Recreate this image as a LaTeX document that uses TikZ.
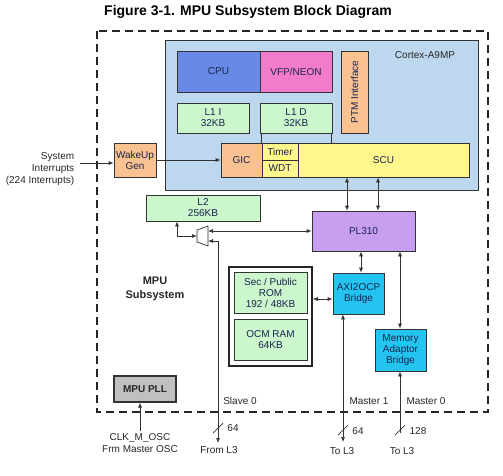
\documentclass[tikz,border=0pt]{standalone}
\usepackage{fontspec}
\setmainfont{Liberation Sans}
\usetikzlibrary{arrows.meta}
\definecolor{cortexblue}{RGB}{189,215,238}
\definecolor{cpublue}{RGB}{104,138,230}
\definecolor{neonpink}{RGB}{242,124,202}
\definecolor{boxorange}{RGB}{250,194,145}
\definecolor{boxgreen}{RGB}{204,246,204}
\definecolor{boxyellow}{RGB}{255,246,140}
\definecolor{plpurple}{RGB}{200,158,240}
\definecolor{bridgecyan}{RGB}{36,196,240}
\definecolor{pllgray}{RGB}{192,192,192}
\definecolor{inktext}{RGB}{25,35,80}

\begin{document}
\begin{tikzpicture}[x=1pt, y=-1pt,
    blk/.style={draw=black!80, line width=0.7pt, inner sep=1pt, align=center,
      font=\fontsize{10}{11}\selectfont, text=inktext},
    lbl/.style={inner sep=0pt, align=center, font=\fontsize{10}{12}\selectfont, text=black!85},
    bus/.style={line width=0.7pt, draw=black!80, >={Latex[length=5pt,width=4pt]}}]
  \useasboundingbox (0,0) rectangle (503,475);

  \node[font=\bfseries\fontsize{14}{16}\selectfont] (title) at (248,12) {Figure 3-1. MPU Subsystem Block Diagram};
  \draw[line width=1.2pt, draw=black!85, dash pattern=on 8pt off 5pt] (97,31) rectangle (488,412);

  % Cortex-A9MP
  \node[blk, fill=cortexblue, minimum width=313, minimum height=150] (cortex) at (321.5,115) {};
  \node[lbl] (cortexlbl) at (425,55) {Cortex-A9MP};
  \node[blk, fill=cpublue, minimum width=83, minimum height=41] (cpu) at (218.5,71.5) {CPU};
  \node[blk, fill=neonpink, minimum width=72, minimum height=41] (vfp) at (296,71.5) {VFP/NEON};
  \node[blk, fill=boxorange, minimum width=82, minimum height=27, rotate=90] (ptm) at (354.5,92) {PTM Interface};
  \node[blk, fill=boxgreen, minimum width=72, minimum height=30] (l1i) at (213,118) {L1 I\\32KB};
  \node[blk, fill=boxgreen, minimum width=72, minimum height=30] (l1d) at (296,118) {L1 D\\32KB};
  \node[blk, fill=boxorange, minimum width=41, minimum height=34] (gic) at (241.5,160) {GIC};
  \node[blk, fill=boxyellow, minimum width=36, minimum height=17] (timer) at (280,151.5) {Timer};
  \node[blk, fill=boxyellow, minimum width=36, minimum height=17] (wdt) at (280,168.5) {WDT};
  \node[blk, fill=boxyellow, minimum width=171, minimum height=34] (scu) at (383.5,160) {SCU};
  \draw[bus] (l1d.south west) ++(2,0) -- ++(0,10);
  \draw[bus] (l1d.south east) ++(-1,0) -- ++(0,10);

  % outside the core
  \node[blk, fill=boxorange, minimum width=42, minimum height=34] (wakeup) at (135,160) {WakeUp\\Gen};
  \node[lbl, align=right] (sysint) at (40,169) {System\\Interrupts\\(224 Interrupts)};
  \node[blk, fill=boxgreen, minimum width=114, minimum height=26] (l2) at (203,208) {L2\\256KB};
  \node[blk, fill=plpurple, minimum width=103, minimum height=40] (pl310) at (363.5,231) {PL310};
  \node[blk, fill=bridgecyan, minimum width=51, minimum height=41] (axi) at (358.5,293.5) {AXI2OCP\\Bridge};
  \node[blk, fill=bridgecyan, minimum width=51, minimum height=42] (mab) at (400.5,350) {Memory\\Adaptor\\Bridge};
  \node[blk, line width=1.5pt, draw=black!85, fill=white, minimum width=83, minimum height=99] (romgrp) at (270.5,316.5) {};
  \node[blk, fill=boxgreen, minimum width=73, minimum height=41] (rom) at (270.5,292.5) {Sec / Public\\ROM\\192 / 48KB};
  \node[blk, fill=boxgreen, minimum width=73, minimum height=41] (ocm) at (270.5,339.5) {OCM RAM\\64KB};
  \node[blk, line width=1.2pt, fill=pllgray, text=black!85, font=\bfseries\fontsize{10}{11}\selectfont,
    minimum width=62, minimum height=26] (pll) at (145,389) {MPU PLL};
  \node[lbl, font=\bfseries\fontsize{11}{14}\selectfont] (mpulbl) at (155,289) {MPU\\Subsystem};

  % mux
  \draw[line width=0.7pt, draw=black!85, fill=white] (197,230) -- (208,226) -- (208,246) -- (197,242) -- cycle;
  \coordinate (muxl) at (197,236);
  \coordinate (muxa) at (208,231);
  \coordinate (muxb) at (208,241);
  \coordinate (l2tap) at (177,236);

  % bus positions
  \coordinate (busa) at (347,0);
  \coordinate (busb) at (378,0);
  \coordinate (busc) at (361,0);
  \coordinate (busd) at (400,0);
  \coordinate (romtap) at (0,299);
  \coordinate (slave) at (218,443);
  \coordinate (mstone) at (343,442);
  \coordinate (mstzero) at (400,433);
  \coordinate (osc) at (140,431);
  \coordinate (irq) at (80,163);

  \draw[bus,->] (irq) -- (wakeup.west |- irq);
  \draw[bus,->] (wakeup) -- (gic);
  \draw[bus,<->] (scu.south -| busa) -- (pl310.north -| busa);
  \draw[bus,<->] (scu.south -| busb) -- (pl310.north -| busb);
  \draw[bus,<->] (pl310.south -| busc) -- (axi.north -| busc);
  \draw[bus,<->] (pl310.south -| busd) -- (mab.north -| busd);
  \draw[bus,<->] (romgrp.east |- romtap) -- (axi.west |- romtap);
  \draw[bus,<->] (l2.south -| l2tap) |- (muxl);
  \draw[bus,<->] (muxa) -- (pl310.west |- muxa);
  \draw[bus,<->] (muxb) -| (slave);
  \draw[bus,<->] (axi.south -| mstone) -- (mstone);
  \draw[bus,->] (mstzero) -- (mab.south -| mstzero);
  \draw[bus,->] (osc) -- (pll.south -| osc);

  % bus widths
  \draw[bus] (213,433) -- (223,423);
  \draw[bus] (338,435) -- (348,425);
  \draw[bus] (395,435) -- (405,425);
  \node[lbl] (wslave) at (233,428) {64};
  \node[lbl] (wmone) at (358,431) {64};
  \node[lbl] (wmzero) at (418,431) {128};

  \node[lbl] (slavelbl) at (240,401) {Slave 0};
  \node[lbl] (mstonelbl) at (369,401) {Master 1};
  \node[lbl] (mstzerolbl) at (426,401) {Master 0};
  \node[lbl] (froml3) at (219,450) {From L3};
  \node[lbl] (tolthree) at (342,451) {To L3};
  \node[lbl] (tolthreeb) at (402,451) {To L3};
  \node[lbl] (osclbl) at (140,443) {CLK\_M\_OSC\\Frm Master OSC};
\end{tikzpicture}
\end{document}
